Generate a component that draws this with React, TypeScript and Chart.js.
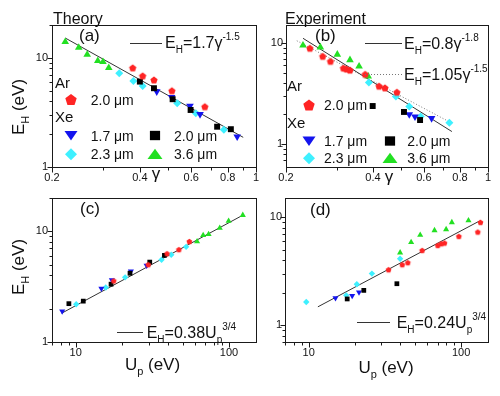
import React, { useEffect, useRef } from "react";
import { Chart, registerables } from "chart.js";
Chart.register(...registerables);

const FONT = "'Liberation Sans', Arial, Helvetica, sans-serif";
const INK = "#111111";
const RED = "#ff2424";
const BLUE = "#1414ee";
const BLACK = "#000000";
const CYAN = "#3ef0ff";
const GREEN = "#22e022";

// ---------- (a) Theory : E_H vs gamma ----------
const A_AR20_G = [0.378, 0.409, 0.447, 0.515, 0.668];
const A_AR20_E = [8.1, 6.84, 6.28, 5.0, 3.57];
const A_XE17_G = [0.457, 0.514, 0.594, 0.643, 0.862];
const A_XE17_E = [4.91, 4.36, 3.63, 3.04, 1.9];
const A_XE20_G = [0.4, 0.447, 0.518, 0.597, 0.736, 0.82];
const A_XE20_E = [6.06, 5.27, 4.18, 3.33, 2.34, 2.22];
const A_XE23_G = [0.34, 0.38, 0.409, 0.537, 0.622, 0.776];
const A_XE23_E = [7.24, 6.15, 5.53, 3.84, 3.11, 2.19];
const A_XE36_G = [0.222, 0.247, 0.264, 0.287, 0.299, 0.313];
const A_XE36_E = [14.0, 12.4, 10.7, 9.4, 9.2, 8.1];
const A_FIT_G = [0.222, 0.904];
const A_FIT_E = [15.2, 1.87];

// ---------- (b) Experiment : E_H vs gamma ----------
const B_AR20_G = [0.242, 0.268, 0.285, 0.316, 0.324, 0.333, 0.376, 0.42, 0.44, 0.484];
const B_AR20_E = [8.86, 7.38, 6.59, 5.65, 5.53, 5.4, 4.91, 3.75, 3.61, 3.27];
const B_XE17_G = [0.534, 0.559, 0.638];
const B_XE17_E = [1.98, 1.88, 1.81];
const B_XE20_G = [0.399, 0.512, 0.582];
const B_XE20_E = [2.39, 2.09, 1.74];
const B_XE23_G = [0.387, 0.48, 0.534, 0.585, 0.735];
const B_XE23_E = [4.08, 2.97, 2.36, 1.88, 1.64];
const B_XE36_G = [0.229, 0.263, 0.301, 0.333, 0.358, 0.385];
const B_XE36_E = [9.45, 9.06, 7.69, 6.79, 5.88, 4.68];
const B_FIT1_G = [0.229, 0.75];
const B_FIT1_E = [11.1, 1.34];
const B_FIT2_G = [0.218, 0.75];
const B_FIT2_E = [10.5, 1.62];

// ---------- (c) Theory : E_H vs Up ----------
const C_AR20_U = [55.1, 47.1, 39.4, 29.7, 17.7];
const C_AR20_E = [8.1, 6.84, 6.28, 5.0, 3.57];
const C_XE17_U = [29.0, 22.9, 17.2, 14.7, 8.16];
const C_XE17_E = [4.91, 4.36, 3.63, 3.04, 1.9];
const C_XE20_U = [37.9, 30.4, 22.6, 17.0, 11.2, 9.02];
const C_XE20_E = [6.06, 5.27, 4.18, 3.33, 2.34, 2.22];
const C_XE23_U = [52.5, 42.0, 36.3, 21.0, 15.7, 10.07];
const C_XE23_E = [7.24, 6.15, 5.53, 3.84, 3.11, 2.19];
const C_XE36_U = [123, 99.4, 87, 73.6, 67.8, 61.9];
const C_XE36_E = [14.0, 12.4, 10.7, 9.4, 9.2, 8.1];
const C_FIT_U = [8.1, 122];
const C_FIT_E = [1.82, 13.9];

// ---------- (d) Experiment : E_H vs Up ----------
const D_AR20_U = [133.9, 128.6, 96.6, 77.8, 74.0, 70.3, 55.5, 44.7, 41.1, 33.4];
const D_AR20_E = [8.93, 7.27, 6.63, 5.75, 5.67, 5.47, 4.92, 3.79, 3.63, 3.26];
const D_XE17_U = [21.4, 19.3, 15.0];
const D_XE17_E = [2.02, 1.87, 1.79];
const D_XE20_U = [37.9, 23.0, 17.9];
const D_XE20_E = [2.42, 2.1, 1.75];
const D_XE23_U = [39.8, 26.0, 20.7, 17.65, 9.65];
const D_XE23_E = [4.12, 3.0, 2.39, 1.89, 1.64];
const D_XE36_U = [111.7, 86.9, 79.7, 66.9, 53.9, 47.0, 39.8];
const D_XE36_E = [9.31, 8.93, 7.69, 7.53, 6.82, 5.84, 4.69];
const D_FIT_U = [11.5, 132];
const D_FIT_E = [1.48, 9.2];

// ---------- ticks ----------
const GAMMA_MAJOR = [0.2, 0.4, 0.6, 0.8, 1];
const GAMMA_LABELS = ["0.2", "0.4", "0.6", "0.8", "1"];
const GAMMA_MINOR = [0.3, 0.5, 0.7, 0.9];
const UP_MAJOR = [10, 100];
const UP_LABELS = ["10", "100"];
const UP_MINOR = [7, 8, 9, 20, 30, 40, 50, 60, 70, 80, 90];
const EH_MAJOR = [1, 10];
const EH_LABELS = ["1", "10"];
const EH_MINOR_TH = [2, 3, 4, 5, 6, 7, 8, 9, 20];
const EH_MINOR_EX = [0.7, 0.8, 0.9, 2, 3, 4, 5, 6, 7, 8, 9];

type Seg = [string, "n" | "b" | "p"];
type Kind = "pent" | "tdown" | "sq" | "dia" | "tup";

const pts = (xs: number[], ys: number[]) => xs.map((x, i) => ({ x, y: ys[i] }));

function markerPath(ctx: CanvasRenderingContext2D, kind: Kind, x: number, y: number, s: number) {
  ctx.beginPath();
  if (kind === "pent") {
    for (let i = 0; i < 5; i++) {
      const a = -Math.PI / 2 + (i * 2 * Math.PI) / 5;
      const px = x + s * Math.cos(a);
      const py = y + s * 0.1 + s * Math.sin(a);
      if (i) ctx.lineTo(px, py);
      else ctx.moveTo(px, py);
    }
  } else if (kind === "tdown") {
    ctx.moveTo(x - s, y - s * 0.7);
    ctx.lineTo(x + s, y - s * 0.7);
    ctx.lineTo(x, y + s * 0.75);
  } else if (kind === "tup") {
    ctx.moveTo(x - s * 1.1, y + s * 0.7);
    ctx.lineTo(x + s * 1.1, y + s * 0.7);
    ctx.lineTo(x, y - s * 0.8);
  } else if (kind === "sq") {
    ctx.rect(x - s * 0.85, y - s * 0.78, s * 1.7, s * 1.56);
  } else {
    ctx.moveTo(x, y - s);
    ctx.lineTo(x + s, y);
    ctx.lineTo(x, y + s);
    ctx.lineTo(x - s, y);
  }
  ctx.closePath();
}

function pentImage(r: number, color: string) {
  const c = document.createElement("canvas");
  const s = Math.ceil(r * 2 + 2);
  c.width = s;
  c.height = s;
  const g = c.getContext("2d")!;
  g.fillStyle = color;
  markerPath(g, "pent", s / 2, s / 2, r);
  g.fill();
  return c;
}

function richWidth(ctx: CanvasRenderingContext2D, segs: Seg[], size: number) {
  let w = 0;
  for (const [t, k] of segs) {
    const s = k === "n" ? size : Math.round(size * 0.64);
    ctx.font = `${s}px ${FONT}`;
    w += ctx.measureText(t).width;
  }
  return w;
}

function rich(ctx: CanvasRenderingContext2D, x: number, y: number, segs: Seg[], size: number, align = "left") {
  let cx = x;
  if (align === "center") cx = x - richWidth(ctx, segs, size) / 2;
  ctx.textAlign = "left";
  ctx.textBaseline = "alphabetic";
  for (const [t, k] of segs) {
    const s = k === "n" ? size : Math.round(size * 0.64);
    ctx.font = `${s}px ${FONT}`;
    const dy = k === "b" ? size * 0.3 : k === "p" ? -size * 0.5 : 0;
    ctx.fillText(t, cx, y + dy);
    cx += ctx.measureText(t).width;
  }
}

function text(ctx: CanvasRenderingContext2D, s: string, x: number, y: number, size: number, align: CanvasTextAlign = "left") {
  ctx.font = `${size}px ${FONT}`;
  ctx.textAlign = align;
  ctx.textBaseline = "alphabetic";
  ctx.fillText(s, x, y);
}

function legendMarker(ctx: CanvasRenderingContext2D, kind: Kind, x: number, y: number, color: string) {
  ctx.fillStyle = color;
  const size: Record<Kind, number> = { pent: 6, tdown: 6.5, sq: 6, dia: 6, tup: 6.8 };
  markerPath(ctx, kind, x, y, size[kind]);
  ctx.fill();
  ctx.fillStyle = INK;
}

function hline(ctx: CanvasRenderingContext2D, x1: number, x2: number, y: number, dash: number[], color: string) {
  ctx.save();
  ctx.strokeStyle = color;
  ctx.lineWidth = 1;
  ctx.setLineDash(dash);
  ctx.beginPath();
  ctx.moveTo(x1, y);
  ctx.lineTo(x2, y);
  ctx.stroke();
  ctx.restore();
}

function yTitle(ctx: CanvasRenderingContext2D, x: number, y: number) {
  ctx.save();
  ctx.translate(x, y);
  ctx.rotate(-Math.PI / 2);
  rich(ctx, 0, 0, [["E", "n"], ["H", "b"], [" (eV)", "n"]], 17, "center");
  ctx.restore();
}

interface AxisCfg {
  min: number;
  max: number;
  major: number[];
  labels: string[];
  minor: number[];
  pad: number;
}
interface PanelCfg {
  area: { l: number; r: number; t: number; b: number };
  x: AxisCfg;
  y: AxisCfg;
  datasets: any[];
  decor: (ctx: CanvasRenderingContext2D) => void;
}

const YW = 40;
const XH = 20;

function axisOpts(axis: "x" | "y", a: AxisCfg) {
  return {
    type: "logarithmic",
    position: axis === "x" ? "bottom" : "left",
    min: a.min,
    max: a.max,
    grid: { display: false, drawTicks: false },
    border: { display: false },
    ticks: {
      autoSkip: false,
      maxRotation: 0,
      minRotation: 0,
      padding: a.pad,
      color: INK,
      font: { family: FONT, size: 11 },
      callback: (v: any) => {
        const i = a.major.findIndex((m) => Math.abs(m - Number(v)) < 1e-6 * m);
        return i >= 0 ? a.labels[i] : "";
      },
    },
    afterBuildTicks: (s: any) => {
      s.ticks = a.major.map((v) => ({ value: v }));
    },
    afterFit: (s: any) => {
      if (axis === "x") s.height = XH;
      else s.width = YW;
      s.paddingLeft = 0;
      s.paddingRight = 0;
      s.paddingTop = 0;
      s.paddingBottom = 0;
    },
  };
}

function framePlugin(p: PanelCfg) {
  return {
    id: "frame",
    afterDraw(chart: any) {
      const ctx: CanvasRenderingContext2D = chart.ctx;
      const a = chart.chartArea;
      const xs = chart.scales.x;
      const ys = chart.scales.y;
      const L = Math.round(a.left) + 0.5;
      const T = Math.round(a.top) + 0.5;
      const R = Math.round(a.right) + 0.5;
      const B = Math.round(a.bottom) + 0.5;
      ctx.save();
      ctx.strokeStyle = "#1a1a1a";
      ctx.lineWidth = 1;
      ctx.strokeRect(L, T, R - L, B - T);
      const seg = (x1: number, y1: number, x2: number, y2: number) => {
        ctx.beginPath();
        ctx.moveTo(x1, y1);
        ctx.lineTo(x2, y2);
        ctx.stroke();
      };
      p.x.major.forEach((v) => {
        const px = Math.round(xs.getPixelForValue(v)) + 0.5;
        seg(px, B, px, B + 5);
      });
      p.x.minor.forEach((v) => {
        const px = Math.round(xs.getPixelForValue(v)) + 0.5;
        seg(px, B, px, B + 3);
      });
      p.y.major.forEach((v) => {
        const py = Math.round(ys.getPixelForValue(v)) + 0.5;
        seg(L - 5, py, L, py);
      });
      p.y.minor.forEach((v) => {
        const py = Math.round(ys.getPixelForValue(v)) + 0.5;
        seg(L - 3, py, L, py);
      });
      ctx.fillStyle = INK;
      p.decor(ctx);
      ctx.restore();
    },
  };
}

function build(canvas: HTMLCanvasElement, p: PanelCfg) {
  return new Chart(canvas, {
    type: "scatter",
    data: { datasets: p.datasets },
    options: {
      animation: false,
      responsive: false,
      maintainAspectRatio: false,
      events: [],
      layout: {
        autoPadding: false,
        padding: { left: p.area.l - YW, right: 500 - p.area.r, top: p.area.t, bottom: 396 - p.area.b - XH },
      },
      plugins: { legend: { display: false }, tooltip: { enabled: false }, title: { display: false } },
      scales: { x: axisOpts("x", p.x) as any, y: axisOpts("y", p.y) as any },
    } as any,
    plugins: [framePlugin(p)],
  });
}

function seriesSet(
  xsR: number[], ysR: number[],
  xsB: number[], ysB: number[],
  xsK: number[], ysK: number[],
  xsC: number[], ysC: number[],
  xsG: number[], ysG: number[],
  r: number
) {
  const base = { showLine: false, borderWidth: 0, pointBorderWidth: 0 };
  return [
    { ...base, data: pts(xsR, ysR), pointStyle: pentImage(r * 0.95, RED), pointRadius: r, backgroundColor: RED },
    { ...base, data: pts(xsK, ysK), pointStyle: "rect", pointRadius: r * 1.05, backgroundColor: BLACK, pointBackgroundColor: BLACK },
    { ...base, data: pts(xsB, ysB), pointStyle: "triangle", rotation: 180, pointRotation: 180, pointRadius: r * 1.1, backgroundColor: BLUE, pointBackgroundColor: BLUE },
    { ...base, data: pts(xsC, ysC), pointStyle: "rectRot", pointRadius: r, backgroundColor: CYAN, pointBackgroundColor: CYAN },
    { ...base, data: pts(xsG, ysG), pointStyle: "triangle", pointRadius: r * 1.1, backgroundColor: GREEN, pointBackgroundColor: GREEN },
  ];
}

function fitLine(xs: number[], ys: number[], color: string, dash: number[] = []) {
  return {
    data: pts(xs, ys),
    showLine: true,
    pointRadius: 0,
    borderColor: color,
    borderWidth: 1,
    borderDash: dash,
    backgroundColor: color,
  };
}

function legendBlock(ctx: CanvasRenderingContext2D, o: { x0: number; mx1: number; tx1: number; mx2: number; tx2: number; arY: number; r1: number; xeY: number; r2: number; r3: number }) {
  text(ctx, "Ar", o.x0, o.arY, 15);
  legendMarker(ctx, "pent", o.mx1, o.r1 - 5, RED);
  text(ctx, "2.0 μm", o.tx1, o.r1, 14);
  text(ctx, "Xe", o.x0, o.xeY, 15);
  legendMarker(ctx, "tdown", o.mx1, o.r2 - 5, BLUE);
  text(ctx, "1.7 μm", o.tx1, o.r2, 14);
  legendMarker(ctx, "sq", o.mx2, o.r2 - 5, BLACK);
  text(ctx, "2.0 μm", o.tx2, o.r2, 14);
  legendMarker(ctx, "dia", o.mx1, o.r3 - 5, CYAN);
  text(ctx, "2.3 μm", o.tx1, o.r3, 14);
  legendMarker(ctx, "tup", o.mx2, o.r3 - 5, GREEN);
  text(ctx, "3.6 μm", o.tx2, o.r3, 14);
}

function panels(): PanelCfg[] {
  const gx = (pad: number): AxisCfg => ({ min: 0.2, max: 1, major: GAMMA_MAJOR, labels: GAMMA_LABELS, minor: GAMMA_MINOR, pad });
  const ux = (pad: number): AxisCfg => ({ min: 7, max: 150, major: UP_MAJOR, labels: UP_LABELS, minor: UP_MINOR, pad });
  return [
    {
      area: { l: 52, r: 256, t: 25, b: 167 },
      x: gx(4),
      y: { min: 1, max: 20, major: EH_MAJOR, labels: EH_LABELS, minor: EH_MINOR_TH, pad: 4 },
      datasets: [
        ...seriesSet(A_AR20_G, A_AR20_E, A_XE17_G, A_XE17_E, A_XE20_G, A_XE20_E, A_XE23_G, A_XE23_E, A_XE36_G, A_XE36_E, 4),
        fitLine(A_FIT_G, A_FIT_E, "#333333"),
      ],
      decor: (ctx) => {
        text(ctx, "Theory", 53, 23.5, 16);
        text(ctx, "(a)", 79, 41, 17);
        hline(ctx, 130, 162, 43.5, [], "#333");
        rich(ctx, 165, 48, [["E", "n"], ["H", "b"], ["=1.7γ", "n"], ["-1.5", "p"]], 16);
        legendBlock(ctx, { x0: 55, mx1: 71, tx1: 90.7, mx2: 155, tx2: 174, arY: 87.5, r1: 104.5, xeY: 122, r2: 140.5, r3: 159.3 });
        yTitle(ctx, 24, 107);
        text(ctx, "γ", 156, 179, 17, "center");
      },
    },
    {
      area: { l: 286, r: 488, t: 25, b: 167 },
      x: gx(4),
      y: { min: 0.6, max: 15, major: EH_MAJOR, labels: EH_LABELS, minor: EH_MINOR_EX, pad: 3 },
      datasets: [
        ...seriesSet(B_AR20_G, B_AR20_E, B_XE17_G, B_XE17_E, B_XE20_G, B_XE20_E, B_XE23_G, B_XE23_E, B_XE36_G, B_XE36_E, 4),
        fitLine(B_FIT1_G, B_FIT1_E, "#333333"),
        fitLine(B_FIT2_G, B_FIT2_E, "#777777", [1, 2]),
      ],
      decor: (ctx) => {
        text(ctx, "Experiment", 285, 23.5, 16);
        text(ctx, "(b)", 315, 41, 17);
        hline(ctx, 365, 402, 43.5, [], "#333");
        rich(ctx, 404, 49, [["E", "n"], ["H", "b"], ["=0.8γ", "n"], ["-1.8", "p"]], 16);
        hline(ctx, 365, 402, 74.5, [1, 2], "#777");
        rich(ctx, 404, 80, [["E", "n"], ["H", "b"], ["=1.05γ", "n"], ["-1.5", "p"]], 16);
        legendBlock(ctx, { x0: 287, mx1: 309, tx1: 324, mx2: 390, tx2: 407.3, arY: 90.7, r1: 110, xeY: 128.3, r2: 146, r3: 163.3 });
        text(ctx, "γ", 389, 182, 17, "center");
      },
    },
    {
      area: { l: 52, r: 256, t: 198, b: 342 },
      x: ux(4),
      y: { min: 1, max: 20, major: EH_MAJOR, labels: EH_LABELS, minor: EH_MINOR_TH, pad: 4 },
      datasets: [
        ...seriesSet(C_AR20_U, C_AR20_E, C_XE17_U, C_XE17_E, C_XE20_U, C_XE20_E, C_XE23_U, C_XE23_E, C_XE36_U, C_XE36_E, 3.2),
        fitLine(C_FIT_U, C_FIT_E, "#333333"),
      ],
      decor: (ctx) => {
        text(ctx, "(c)", 80, 213.5, 17);
        hline(ctx, 117, 143, 332.5, [], "#333");
        rich(ctx, 146.7, 338, [["E", "n"], ["H", "b"], ["=0.38U", "n"], ["p", "b"], ["3/4", "p"]], 16);
        yTitle(ctx, 24, 267);
        rich(ctx, 152.5, 370, [["U", "n"], ["p", "b"], [" (eV)", "n"]], 17, "center");
      },
    },
    {
      area: { l: 285, r: 488, t: 198, b: 342 },
      x: ux(4),
      y: { min: 0.7, max: 15, major: EH_MAJOR, labels: EH_LABELS, minor: EH_MINOR_EX, pad: 3 },
      datasets: [
        ...seriesSet(D_AR20_U, D_AR20_E, D_XE17_U, D_XE17_E, D_XE20_U, D_XE20_E, D_XE23_U, D_XE23_E, D_XE36_U, D_XE36_E, 3.2),
        fitLine(D_FIT_U, D_FIT_E, "#333333"),
      ],
      decor: (ctx) => {
        text(ctx, "(d)", 310, 215, 17);
        hline(ctx, 357, 390, 322.5, [], "#333");
        rich(ctx, 396.7, 328, [["E", "n"], ["H", "b"], ["=0.24U", "n"], ["p", "b"], ["3/4", "p"]], 16);
        rich(ctx, 386, 373, [["U", "n"], ["p", "b"], [" (eV)", "n"]], 17, "center");
      },
    },
  ];
}

export default function App() {
  const r0 = useRef<HTMLCanvasElement>(null);
  const r1 = useRef<HTMLCanvasElement>(null);
  const r2 = useRef<HTMLCanvasElement>(null);
  const r3 = useRef<HTMLCanvasElement>(null);
  useEffect(() => {
    const refs = [r0, r1, r2, r3];
    const cfgs = panels();
    const charts = cfgs.map((p, i) => build(refs[i].current!, p));
    return () => charts.forEach((c) => c.destroy());
  }, []);
  const st: React.CSSProperties = { position: "absolute", left: 0, top: 0 };
  return (
    <div style={{ position: "absolute", left: 0, top: 0, width: 500, height: 396, background: "#ffffff", overflow: "hidden" }}>
      <canvas ref={r0} width={500} height={396} style={st} />
      <canvas ref={r1} width={500} height={396} style={st} />
      <canvas ref={r2} width={500} height={396} style={st} />
      <canvas ref={r3} width={500} height={396} style={st} />
    </div>
  );
}
